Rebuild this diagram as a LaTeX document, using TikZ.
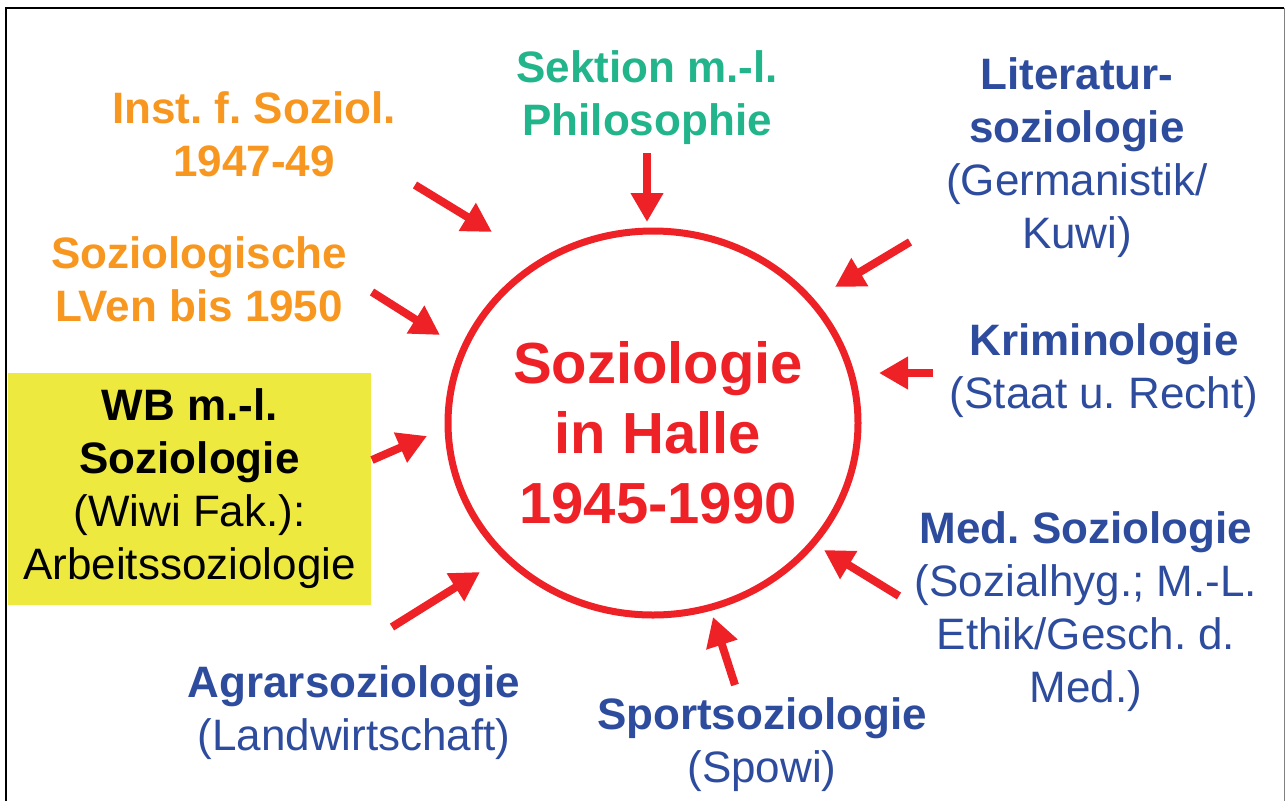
\documentclass[tikz,border=0pt]{standalone}
\usepackage{fontspec}
\setmainfont{Liberation Sans}
\usetikzlibrary{arrows.meta,shapes.geometric,positioning}
\frenchspacing

\definecolor{sozred}{HTML}{EE2127}
\definecolor{sozorange}{HTML}{F7971F}
\definecolor{sozgreen}{HTML}{22B48A}
\definecolor{sozblue}{HTML}{2E4C9E}
\definecolor{sozyellow}{HTML}{EEE93F}

\tikzset{
  lbl/.style={align=center, inner sep=0pt},
  early/.style={lbl, text=sozorange, font=\fontsize{44}{53}\selectfont\bfseries},
  faculty/.style={lbl, text=sozblue},
  ring/.style={ellipse, draw=sozred, line width=7pt, minimum width=410pt, minimum height=384pt, inner sep=0pt},
  feed/.style={->, draw=sozred, line width=8pt}
}

\begin{document}
\begin{tikzpicture}[x=1pt, y=-1pt, >={Triangle[length=29pt,width=31pt]},
    font=\fontsize{44}{53}\selectfont]
    \useasboundingbox (0,0) rectangle (1287,801);
    \draw[black, line width=1.5pt] (6,801) -- (6,8) -- (1284,8);
    \draw[gray, line width=1pt] (1284,8) -- (1284,801);

    % centre
    \node[ring]  (ring)  at (653,423) {};
    \node[lbl, text=sozred, font=\fontsize{58}{70}\selectfont\bfseries]
                 (halle) at (658,433) {Soziologie\\in Halle\\1945-1990};

    % surrounding institutions
    \node[lbl, text=sozgreen, font=\fontsize{44}{53}\selectfont\bfseries]
                 (sektion) at (647,98)  {Sektion m.-l.\\Philosophie};
    \node[early] (inst)    at (254,134) {Inst. f. Soziol.\\1947-49};
    \node[early] (lven)    at (199,279) {Soziologische\\LVen bis 1950};
    \node[lbl, fill=sozyellow, minimum width=363pt, minimum height=232pt]
                 (wb)      at (189.5,489) {\textbf{WB m.-l.}\\\textbf{Soziologie}\\(Wiwi Fak.):\\Arbeitssoziologie};
    \node[faculty] (agrar) at (354,713)  {\textbf{Agrarsoziologie}\\(Landwirtschaft)};
    \node[faculty] (sport) at (762,745)  {\textbf{Sportsoziologie}\\(Spowi)};
    \node[faculty] (med)   at (1086,612) {\textbf{Med. Soziologie}\\(Sozialhyg.; M.-L.\\Ethik/Gesch. d.\\Med.)};
    \node[faculty] (krim)  at (1104,371) {\textbf{Kriminologie}\\(Staat u. Recht)};
    \node[faculty] (lit)   at (1077,158) {\textbf{Literatur-}\\\textbf{soziologie}\\(Germanistik/\\Kuwi)};

    % arrow ends
    \coordinate (inst-t)    at (415,185);  \coordinate (inst-h)    at (492,232);
    \coordinate (sektion-t) at (647,153);  \coordinate (sektion-h) at (647,222);
    \coordinate (lven-t)    at (372,292);  \coordinate (lven-h)    at (440,335);
    \coordinate (wb-t)      at (372,460);  \coordinate (wb-h)      at (427,436);
    \coordinate (agrar-t)   at (392,627);  \coordinate (agrar-h)   at (480,572);
    \coordinate (sport-t)   at (735,685);  \coordinate (sport-h)   at (713,617);
    \coordinate (med-t)     at (899,596);  \coordinate (med-h)     at (824,550);
    \coordinate (krim-t)    at (933,373);  \coordinate (krim-h)    at (879,373);
    \coordinate (lit-t)     at (910,242);  \coordinate (lit-h)     at (835,287);

    \foreach \src in {inst,sektion,lven,wb,agrar,sport,med,krim,lit}
        \draw[feed] (\src-t) -- (\src-h);
\end{tikzpicture}
\end{document}
